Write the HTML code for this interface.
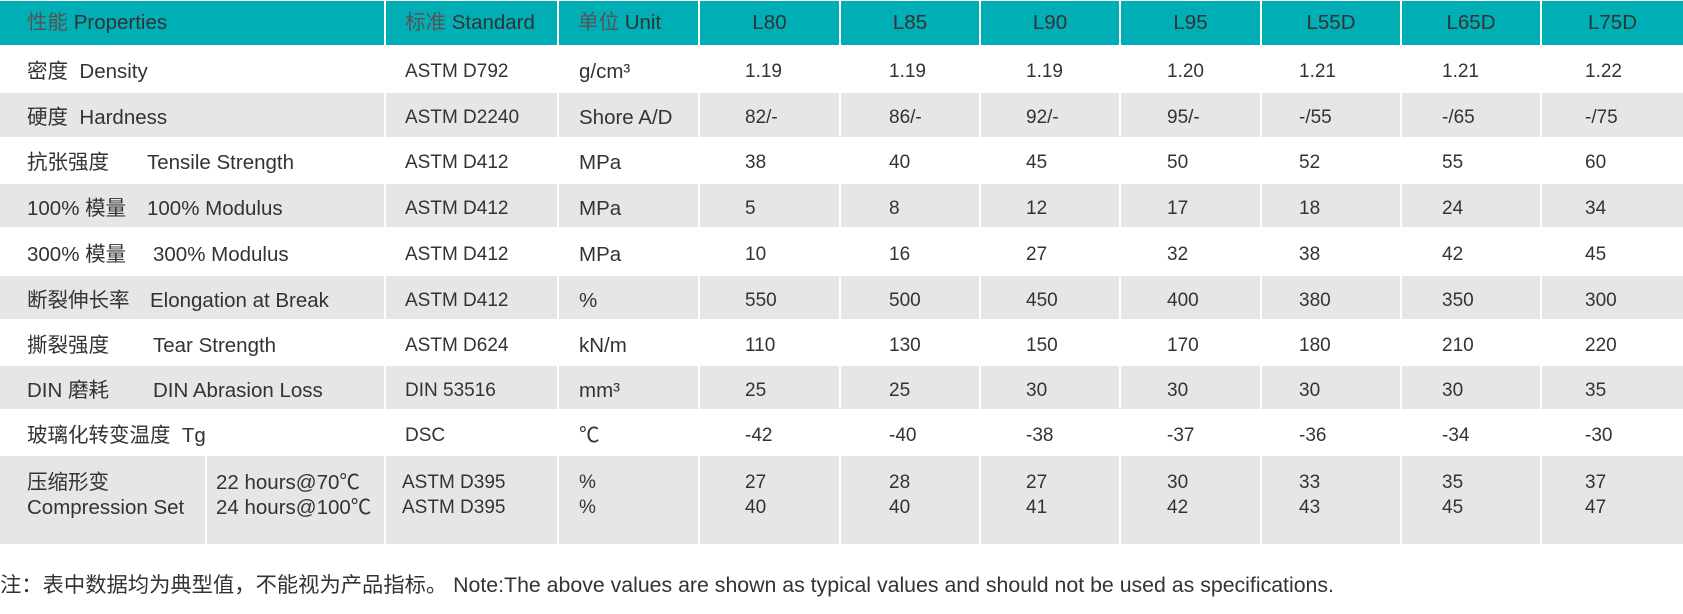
<!DOCTYPE html>
<html><head><meta charset="utf-8"><style>
body{margin:0;width:1683px;height:614px;background:#fff;position:relative;overflow:hidden;font-family:"Liberation Sans","Noto Sans CJK SC",sans-serif;color:#333;font-size:19px}
.c{position:absolute;box-sizing:border-box}
.h{background:#00aeb5;top:1px;height:44px}
.g{background:#e6e6e7}
.t{position:absolute;white-space:nowrap;line-height:20px}
.p{font-size:20.5px}
.zh{color:#555}
</style></head><body>
<div class="c h" style="left:0;width:384px"></div>
<div class="c h" style="left:386px;width:171px"></div>
<div class="c h" style="left:559px;width:139px"></div>
<div class="c h" style="left:700px;width:139px"></div>
<div class="c h" style="left:841px;width:138px"></div>
<div class="c h" style="left:981px;width:138px"></div>
<div class="c h" style="left:1121px;width:139px"></div>
<div class="c h" style="left:1262px;width:138px"></div>
<div class="c h" style="left:1402px;width:138px"></div>
<div class="c h" style="left:1542px;width:141px"></div>
<div id="rows"></div>
<script>
var cols=[[0,384],[386,557],[559,698],[700,839],[841,979],[981,1119],[1121,1260],[1262,1400],[1402,1540],[1542,1683]];
var tops=[47,93,138,184,230,276,321,366,411,456];
var hts=[44,44,44,43,44,43,43,43,42,88];
var h='';
for(var i=0;i<10;i++){if(i%2==1){for(var j=0;j<10;j++){var L=cols[j][0],R=cols[j][1];
 if(i==9&&j==0){h+='<div class="c g" style="left:0;top:'+tops[i]+'px;width:205px;height:'+hts[i]+'px"></div><div class="c g" style="left:207px;top:'+tops[i]+'px;width:177px;height:'+hts[i]+'px"></div>';}
 else h+='<div class="c g" style="left:'+L+'px;top:'+tops[i]+'px;width:'+(R-L)+'px;height:'+hts[i]+'px"></div>';}}}
document.getElementById('rows').innerHTML=h;
</script>
<div class="t p" style="left:27px;top:13px"><span class="zh">性能</span> Properties</div>
<div class="t p" style="left:405px;top:13px"><span class="zh">标准</span> Standard</div>
<div class="t p" style="left:578px;top:13px"><span class="zh">单位</span> Unit</div>
<div class="t p" style="left:700px;width:139px;text-align:center;top:13px">L80</div>
<div class="t p" style="left:841px;width:138px;text-align:center;top:13px">L85</div>
<div class="t p" style="left:981px;width:138px;text-align:center;top:13px">L90</div>
<div class="t p" style="left:1121px;width:139px;text-align:center;top:13px">L95</div>
<div class="t p" style="left:1262px;width:138px;text-align:center;top:13px">L55D</div>
<div class="t p" style="left:1402px;width:138px;text-align:center;top:13px">L65D</div>
<div class="t p" style="left:1542px;width:141px;text-align:center;top:13px">L75D</div>
<div id="txt"></div>
<script>
var data=[
["密度 &nbsp;Density","","ASTM D792","g/cm³",["1.19","1.19","1.19","1.20","1.21","1.21","1.22"]],
["硬度 &nbsp;Hardness","","ASTM D2240","Shore A/D",["82/-","86/-","92/-","95/-","-/55","-/65","-/75"]],
["抗张强度","Tensile Strength","ASTM D412","MPa",["38","40","45","50","52","55","60"]],
["100% 模量","100% Modulus","ASTM D412","MPa",["5","8","12","17","18","24","34"]],
["300% 模量","300% Modulus","ASTM D412","MPa",["10","16","27","32","38","42","45"]],
["断裂伸长率","Elongation at Break","ASTM D412","%",["550","500","450","400","380","350","300"]],
["撕裂强度","Tear Strength","ASTM D624","kN/m",["110","130","150","170","180","210","220"]],
["DIN 磨耗","DIN Abrasion Loss","DIN 53516","mm³",["25","25","30","30","30","30","35"]],
["玻璃化转变温度 &nbsp;Tg","","DSC","℃",["-42","-40","-38","-37","-36","-34","-30"]]];
var ex=[0,0,147,147,153,150,153,153,0];
var vx=[745,889,1026,1167,1299,1442,1585];
var tops=[47,93,138,184,230,276,321,366,411];
var s='';
for(var i=0;i<9;i++){var y=tops[i]+15,d=data[i];
s+='<div class="t p" style="left:27px;top:'+y+'px">'+d[0]+'</div>';
if(d[1])s+='<div class="t p" style="left:'+ex[i]+'px;top:'+y+'px">'+d[1]+'</div>';
s+='<div class="t" style="left:405px;top:'+y+'px">'+d[2]+'</div>';
s+='<div class="t p" style="left:579px;top:'+y+'px">'+d[3]+'</div>';
for(var j=0;j<7;j++)s+='<div class="t" style="left:'+vx[j]+'px;top:'+y+'px">'+d[4][j]+'</div>';}
var a=["27","28","27","30","33","35","37"],b=["40","40","41","42","43","45","47"];
s+='<div class="t p" style="left:27px;top:473px">压缩形变</div><div class="t p" style="left:27px;top:498px">Compression Set</div>';
s+='<div class="t p" style="left:216px;top:473px">22 hours@70℃</div><div class="t p" style="left:216px;top:498px">24 hours@100℃</div>';
s+='<div class="t" style="left:402px;top:473px">ASTM D395</div><div class="t" style="left:402px;top:498px">ASTM D395</div>';
s+='<div class="t" style="left:579px;top:473px">%</div><div class="t" style="left:579px;top:498px">%</div>';
for(var j=0;j<7;j++){s+='<div class="t" style="left:'+vx[j]+'px;top:'+vx.length*0+473+'px">'+a[j]+'</div><div class="t" style="left:'+vx[j]+'px;top:498px">'+b[j]+'</div>';}
document.getElementById('txt').innerHTML=s;
</script>
<div class="t" style="left:0;top:575px;font-size:21.3px">注：表中数据均为典型值，不能视为产品指标。 Note:The above values are shown as typical values and should not be used as specifications.</div>
</body></html>
